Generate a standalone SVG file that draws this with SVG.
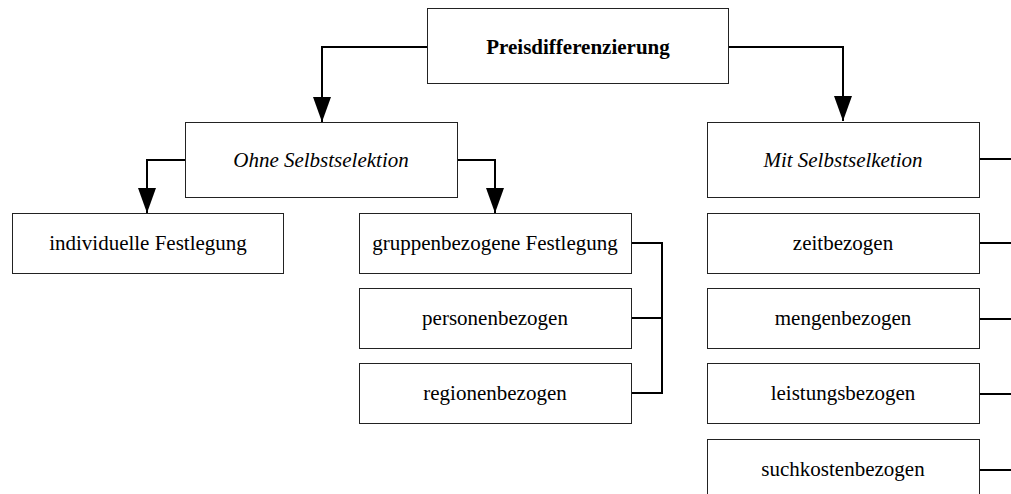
<svg xmlns="http://www.w3.org/2000/svg" width="1011" height="494" viewBox="0 0 1011 494">
  <style>
    .box { fill: #fff; stroke: #222; stroke-width: 1; }
    .lbl { font-family: "Liberation Serif", "Times New Roman", serif; font-size: 21px; fill: #000; text-anchor: middle; }
    .it { font-style: italic; }
    .bd { font-weight: bold; }
    .wire { fill: none; stroke: #000; stroke-width: 2; }
  </style>
  <defs>
    <marker id="arrow" markerUnits="userSpaceOnUse" markerWidth="18" markerHeight="26" refX="17" refY="9" orient="auto" viewBox="0 0 18 26">
      <path d="M0,0 L17,9 L0,18 Z" fill="#000" transform="translate(0,0)"/>
    </marker>
    <marker id="head" markerUnits="userSpaceOnUse" markerWidth="26" markerHeight="18" refX="25" refY="9" orient="auto" viewBox="0 0 26 18">
      <path d="M0,0 L25,9 L0,18 Z" fill="#000"/>
    </marker>
  </defs>

  <rect width="1011" height="494" fill="#fff"/>

  <!-- connectors -->
  <g id="connectors">
    <path class="wire" d="M427,47 H322 V122" marker-end="url(#head)"/>
    <path class="wire" d="M729,47 H843 V121" marker-end="url(#head)"/>
    <path class="wire" d="M185,160 H147 V213" marker-end="url(#head)"/>
    <path class="wire" d="M457,160 H495 V213" marker-end="url(#head)"/>
    <path class="wire" d="M632,243 H662 V393 H632 M632,318 H662"/>
    <path class="wire" d="M979,159 H1011"/>
    <path class="wire" d="M979,243 H1011"/>
    <path class="wire" d="M979,319 H1011"/>
    <path class="wire" d="M979,394 H1011"/>
    <path class="wire" d="M979,470 H1011"/>
  </g>

  <g id="preisdifferenzierung">
    <rect class="box" x="427.5" y="8.5" width="301" height="75"/>
    <text class="lbl bd" x="578" y="54">Preisdifferenzierung</text>
  </g>

  <g id="ohne-selbstselektion">
    <rect class="box" x="185.5" y="122.5" width="272" height="75"/>
    <text class="lbl it" x="321" y="167">Ohne Selbstselektion</text>
  </g>

  <g id="mit-selbstselektion">
    <rect class="box" x="707.5" y="122.5" width="272" height="75"/>
    <text class="lbl it" x="843" y="167">Mit Selbstselketion</text>
  </g>

  <g id="individuelle-festlegung">
    <rect class="box" x="12.5" y="213.5" width="271" height="60"/>
    <text class="lbl" x="148" y="250">individuelle Festlegung</text>
  </g>

  <g id="gruppenbezogene-festlegung">
    <rect class="box" x="359.5" y="213.5" width="272" height="60"/>
    <text class="lbl" x="495" y="250">gruppenbezogene Festlegung</text>
  </g>

  <g id="personenbezogen">
    <rect class="box" x="359.5" y="288.5" width="272" height="60"/>
    <text class="lbl" x="495" y="325">personenbezogen</text>
  </g>

  <g id="regionenbezogen">
    <rect class="box" x="359.5" y="363.5" width="272" height="60"/>
    <text class="lbl" x="495" y="400">regionenbezogen</text>
  </g>

  <g id="zeitbezogen">
    <rect class="box" x="707.5" y="213.5" width="272" height="60"/>
    <text class="lbl" x="843" y="250">zeitbezogen</text>
  </g>

  <g id="mengenbezogen">
    <rect class="box" x="707.5" y="288.5" width="272" height="60"/>
    <text class="lbl" x="843" y="325">mengenbezogen</text>
  </g>

  <g id="leistungsbezogen">
    <rect class="box" x="707.5" y="363.5" width="272" height="60"/>
    <text class="lbl" x="843" y="400">leistungsbezogen</text>
  </g>

  <g id="suchkostenbezogen">
    <rect class="box" x="707.5" y="439.5" width="272" height="60"/>
    <text class="lbl" x="843" y="476">suchkostenbezogen</text>
  </g>
</svg>
